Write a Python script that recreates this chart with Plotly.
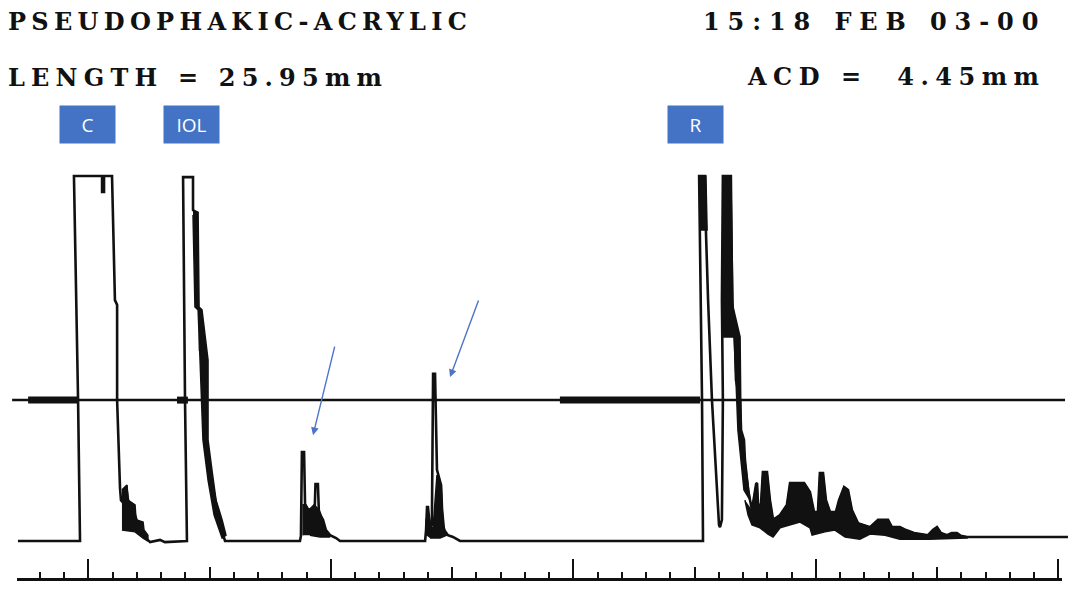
import plotly.graph_objects as go

# ---- A-scan echo trace: depth along the scan axis (mm) vs. echo amplitude (% of full scale)
cornea_mm = [-2.91, -0.35, -0.43, -0.60, 0.56, 0.56, 0.64, 0.64, 0.97, 1.09, 1.18, 1.18, 1.30,
             1.34, 1.51, 1.55, 1.63, 1.71, 1.92, 2.04, 2.21, 2.37, 2.54, 2.74, 2.95, 3.15, 4.06]
cornea_amp = [0, 0, 38.6, 100, 100, 95.6, 95.6, 100, 100, 66.0, 64.7, 38.6, 14.5,
              11.2, 9.9, 15.1, 11.2, 8.5, 7.1, 4.4, 3.0, 0.8, -0.3, 0, 0.3, -0.3, 0]

iol_mm = [3.98, 3.90, 4.31, 4.31, 4.43, 4.47, 4.60, 4.60, 4.76, 4.80, 5.13, 5.26, 5.42, 5.63]
iol_amp = [38.6, 99.7, 99.7, 90.7, 89.9, 64.1, 63.3, 52.3, 51.8, 27.7, 14.8, 9.9, 4.4, 0]

echo1_mm = [8.72, 8.76, 8.80, 8.89, 8.93, 9.05, 9.33, 9.36, 9.46, 9.50, 9.55, 9.67, 9.79,
            9.96, 10.21, 10.37]
echo1_amp = [0, 1.4, 24.4, 24.4, 9.9, 8.5, 9.0, 15.6, 15.6, 8.0, 7.1, 5.8, 3.0,
             1.6, 0.8, 0]

echo2_mm = [13.88, 13.92, 13.96, 14.00, 14.08, 14.16, 14.21, 14.29, 14.37, 14.54, 14.58,
            14.66, 14.82, 15.03, 15.32]
echo2_amp = [0, 3.0, 9.3, 9.3, 3.6, 4.4, 45.8, 45.8, 19.5, 15.3, 8.5, 3.0, 1.6, 1.1, 0]

retina_mm = [25.34, 25.30, 25.18, 25.42, 25.46, 25.55, 25.71, 25.88, 26.00, 26.04, 26.12, 26.16,
             26.12, 26.16, 26.49, 26.54, 26.66, 26.70, 26.87, 26.91, 27.03, 27.07, 27.20, 27.28]
retina_amp = [0, 38.6, 100, 100, 85.2, 66.0, 38.6, 16.7, 4.4, 3.8, 5.8, 38.6,
              66.0, 100, 100, 66.0, 55.1, 44.1, 38.6, 30.4, 27.7, 22.2, 14.0, 11.2]

# orbital echoes behind the retina (upper envelope of the trace)
orbit_mm = [27.36, 27.53, 27.57, 27.61, 27.73, 27.81, 27.98, 28.10, 28.23, 28.52,
            28.80, 28.93, 29.51, 29.75, 29.92, 30.08, 30.16, 30.29, 30.41, 30.58,
            30.82, 30.95, 31.16, 31.32, 31.48, 31.73, 32.23, 32.56, 32.97, 33.13,
            33.46, 33.71, 34.04, 34.62, 34.82, 34.99, 35.15, 35.40, 35.60, 35.81,
            35.97, 36.23]
orbit_amp = [8.5, 15.6, 15.9, 9.9, 9.9, 18.9, 18.9, 11.2, 5.8, 7.1,
             9.9, 15.9, 15.9, 13.4, 7.9, 7.9, 18.6, 18.6, 11.2, 7.9,
             7.9, 11.2, 14.8, 14.0, 8.5, 4.9, 3.8, 5.8, 5.8, 3.8,
             3.8, 3.0, 2.2, 1.6, 3.0, 3.8, 2.2, 1.6, 2.2, 2.2,
             1.4, 1.1]
# lower envelope of the dense orbital echo band
orbit_floor_mm = [27.07, 27.20, 27.36, 27.69, 28.02, 28.23, 28.52, 29.34, 29.75, 29.84,
                  30.37, 30.78, 31.20, 31.81, 32.23, 32.85, 33.46, 34.66, 36.23]
orbit_floor_amp = [11.2, 7.1, 4.4, 3.6, 1.9, 1.1, 3.6, 5.2, 3.6, 1.6,
                   2.5, 3.0, 1.1, 0.5, 1.9, 1.6, 0.5, 0.5, 0.8]

tail_mm = [40.39]
tail_amp = [1.1]

# dense (saturated) echo clusters drawn solid
cornea_fill_mm = [1.38, 1.59, 1.63, 1.92, 1.96, 2.25, 2.29, 2.45, 2.45, 2.25, 1.92, 1.38]
cornea_fill_amp = [14.0, 15.3, 11.2, 9.9, 5.8, 5.2, 3.0, 1.6, 0, 0.8, 2.5, 3.0]
iol_fill_mm = [4.31, 4.52, 4.56, 4.68, 4.93, 4.93, 5.09, 5.26, 5.51, 5.67, 5.51, 5.18,
               4.93, 4.72, 4.60, 4.52, 4.39, 4.31]
iol_fill_amp = [90.7, 90.1, 64.1, 63.3, 49.6, 27.7, 19.5, 11.2, 5.8, 1.6, 0.8, 7.1,
                16.7, 27.7, 49.6, 63.3, 64.1, 89.3]
echo1_fill_mm = [8.85, 8.85, 8.97, 9.09, 9.30, 9.51, 9.67, 9.79, 9.96, 9.55, 9.13]
echo1_fill_amp = [1.6, 9.9, 9.9, 8.5, 9.9, 8.5, 5.8, 2.5, 1.1, 1.1, 1.6]
echo2_fill_mm = [13.92, 13.92, 14.00, 14.08, 14.21, 14.29, 14.37, 14.54, 14.62, 14.78, 14.50, 14.08]
echo2_fill_amp = [1.6, 5.8, 7.1, 3.6, 3.6, 11.2, 18.1, 15.3, 4.4, 1.6, 0.8, 0.8]
retina_cap_mm = [25.18, 25.46, 25.51, 25.22]
retina_cap_amp = [100, 100, 85.2, 85.2]
sclera_fill_mm = [26.16, 26.49, 26.58, 26.87, 26.91, 27.28, 27.03, 26.78, 26.70, 26.62, 26.20, 26.16]
sclera_fill_amp = [100, 100, 64.1, 55.9, 30.4, 11.2, 14.0, 30.4, 44.1, 55.9, 55.9, 66.0]

# measurement gate / threshold line
gate_level = 38.6
gate_span = [-3.15, 40.27]
gate_start = [-2.49, 3.65, 19.44]
gate_end = [-0.43, 4.10, 25.22]

# echo labels and arrows
label_text = ["C", "IOL", "R"]
label_mm = [-0.04, 4.23, 25.03]
arrow_mm = [9.26, 14.91]
arrow_amp = [29.0, 44.9]

# ruler extent (mm)
ruler_span = [-2.9485, 40.1443]

BLACK = "#111111"
BLUE = "#4472C4"

fig = go.Figure()

# threshold line (thin) and gates (thick)
fig.add_trace(go.Scatter(x=gate_span, y=[gate_level, gate_level], mode="lines",
                         line=dict(color=BLACK, width=2.5), hoverinfo="skip"))
for s, e in zip(gate_start, gate_end):
    fig.add_trace(go.Scatter(x=[s, e], y=[gate_level, gate_level], mode="lines",
                             line=dict(color=BLACK, width=7), hoverinfo="skip"))

# main echo trace
trace_mm = cornea_mm + iol_mm + echo1_mm + echo2_mm + retina_mm + orbit_mm + tail_mm
trace_amp = cornea_amp + iol_amp + echo1_amp + echo2_amp + retina_amp + orbit_amp + tail_amp
fig.add_trace(go.Scatter(x=trace_mm, y=trace_amp, mode="lines",
                         line=dict(color=BLACK, width=2.6), hoverinfo="skip"))

# solid echo clusters
band_mm = orbit_mm + orbit_floor_mm[::-1]
band_amp = orbit_amp + orbit_floor_amp[::-1]
for fx, fy in [(cornea_fill_mm, cornea_fill_amp), (iol_fill_mm, iol_fill_amp),
               (echo1_fill_mm, echo1_fill_amp), (echo2_fill_mm, echo2_fill_amp),
               (retina_cap_mm, retina_cap_amp), (sclera_fill_mm, sclera_fill_amp),
               (band_mm, band_amp)]:
    fig.add_trace(go.Scatter(x=fx, y=fy, mode="lines", fill="toself", fillcolor=BLACK,
                             line=dict(color=BLACK, width=1.5), hoverinfo="skip"))

# empty traces so the ruler axes get their own subplots
for ax in ["x2", "x3"]:
    fig.add_trace(go.Scatter(x=[], y=[], xaxis=ax, yaxis="y", mode="lines",
                             hoverinfo="skip"))

# header text
head_font = dict(family="DejaVu Serif", size=24, color=BLACK, weight="bold")
def spaced(txt, px):
    return f'<span style="letter-spacing:{px}px">{txt}</span>'

annotations = [
    dict(text=spaced("PSEUDOPHAKIC-ACRYLIC", 5.3), x=0.006, y=0.9644, xanchor="left"),
    dict(text=spaced("LENGTH = 25.95mm", 6.2), x=0.006, y=0.8678, xanchor="left"),
    dict(text=spaced("15:18 FEB 03-00", 7.9), x=0.978, y=0.9644, xanchor="right"),
    dict(text=spaced("ACD =\u00a0\u00a04.45mm", 6.5), x=0.9767, y=0.8695, xanchor="right"),
]
for a in annotations:
    a.update(xref="paper", yref="paper", yanchor="middle", showarrow=False, font=head_font)

for t, m in zip(label_text, label_mm):
    annotations.append(dict(text=t, x=m, y=0.789, xref="x", yref="paper",
                            xanchor="center", yanchor="middle", showarrow=False,
                            bgcolor=BLUE, width=55, height=37, borderpad=0,
                            font=dict(family="Open Sans", size=19, color="white")))

for (m, a), (dx, dy) in zip(zip(arrow_mm, arrow_amp), [(22, -90), (29, -78)]):
    annotations.append(dict(x=m, y=a, xref="x", yref="y", ax=dx, ay=dy, text="",
                            showarrow=True, arrowhead=2, arrowsize=1.1, arrowwidth=1.4,
                            arrowcolor="#4d74c9", standoff=0))

fig.update_layout(
    width=1072, height=590,
    margin=dict(l=0, r=0, t=0, b=0),
    paper_bgcolor="white", plot_bgcolor="rgba(0,0,0,0)",
    showlegend=False,
    annotations=annotations,
    xaxis=dict(domain=[0, 1], range=[-3.6495, 40.557], visible=False),
    yaxis=dict(domain=[0.020339, 1], range=[-10.137, 148.219], visible=False),
    # depth ruler: 1 mm minor ticks, 5 mm major ticks
    xaxis2=dict(domain=[0.015858, 0.990672], range=ruler_span, anchor="y",
                showline=True, linecolor=BLACK, linewidth=3, showgrid=False, zeroline=False,
                showticklabels=False, ticks="inside", tick0=0, dtick=5, ticklen=11,
                tickwidth=2, tickcolor=BLACK,
                minor=dict(ticks="inside", dtick=1, tick0=0, ticklen=6, tickwidth=2,
                           tickcolor=BLACK, showgrid=False)),
    # taller ticks every 10 mm
    xaxis3=dict(overlaying="x2", range=ruler_span, anchor="y", showline=False,
                showgrid=False, zeroline=False, showticklabels=False, ticks="inside",
                tick0=0, dtick=10, ticklen=19, tickwidth=2, tickcolor=BLACK),
)

fig.write_html("out.html")
